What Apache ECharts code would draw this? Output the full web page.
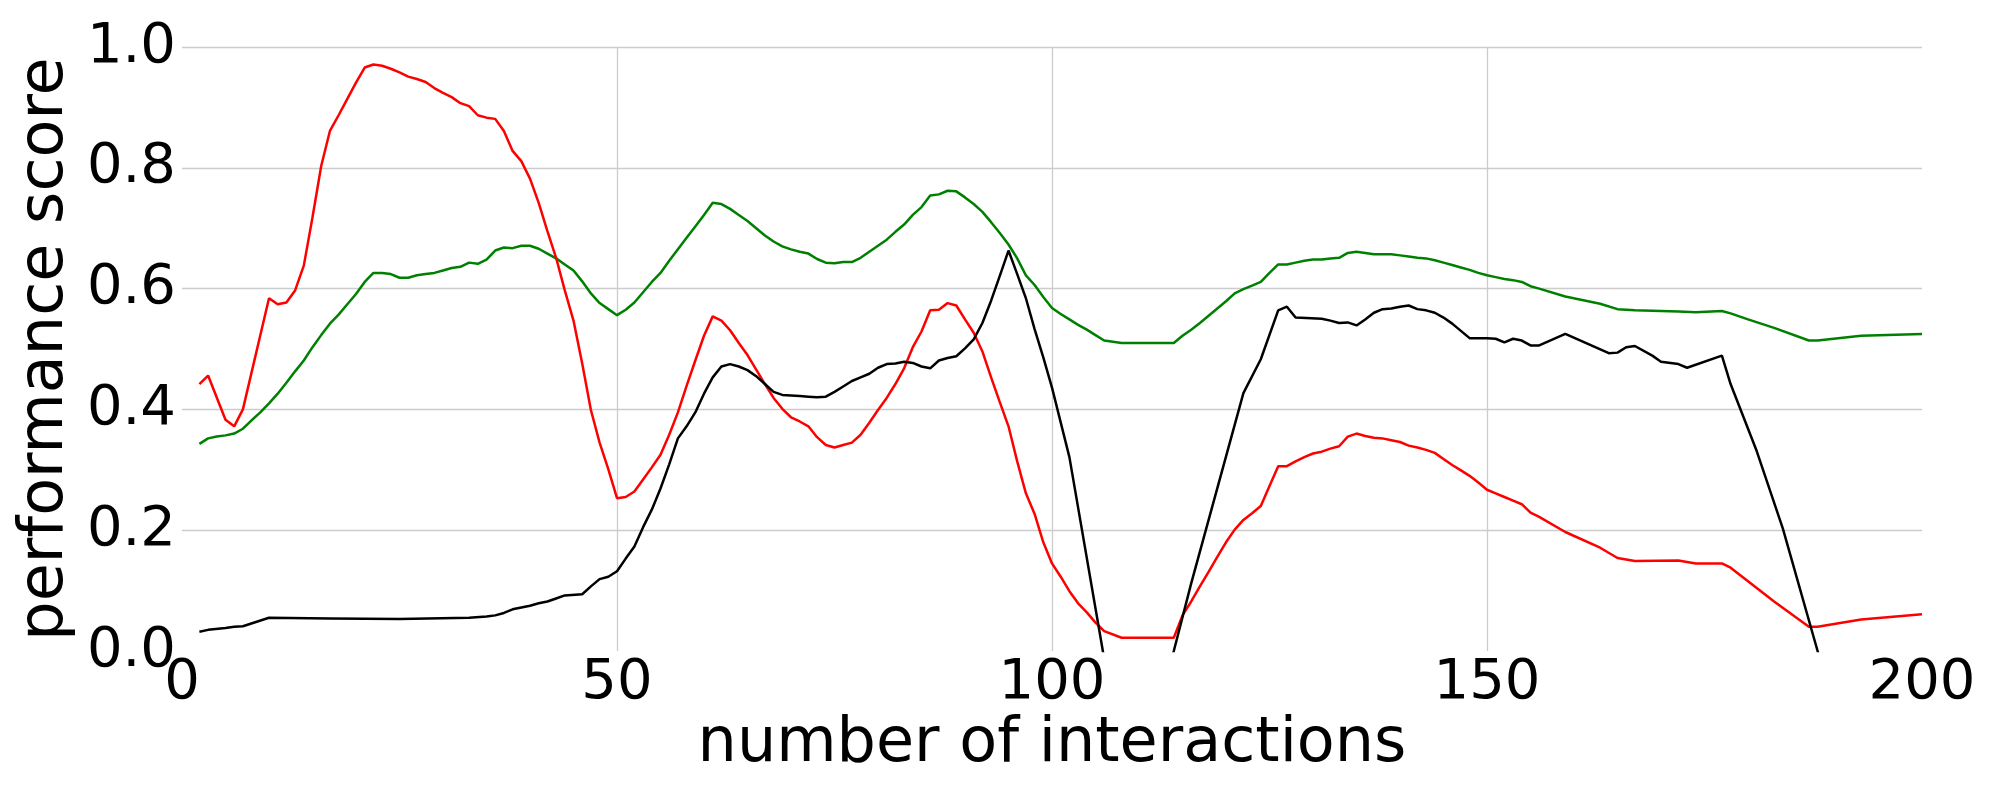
<!DOCTYPE html>
<html>
<head>
<meta charset="utf-8">
<script src="https://cdn.jsdelivr.net/npm/echarts@6/dist/echarts.min.js"></script>
<style>
html,body{margin:0;padding:0;background:#fff;}
#chart{width:2000px;height:800px;}
</style>
</head>
<body>
<div id="chart"></div>
<script>
// Red series
const redX = [2,3,5,6,7,10,11,12,13,14,15,16,17,18,19,20,21,22,23,24,25,26,27,28,29,30,31,32,33,34,35,36,37,38,39,40,41,42,43,44,45,46,47,48,49,50,51,52,53,54,55,56,57,58,59,60,61,62,63,64,65,66,67,68,69,70,71,72,73,74,75,76,77,78,79,80,81,82,83,84,85,86,87,88,89,90,91,92,93,94,95,96,97,98,99,100,101,102,103,104,105,106,108,114,115,116,117,118,119,120,121,122,123,124,125,126,127,128,129,130,131,132,133,134,135,136,137,138,139,140,141,142,143,144,145,146,147,148,149,150,151,152,153,154,155,156,159,163,165,167,172,174,177,178,183,187,188,193,200];
const redY = [0.442,0.456,0.383,0.372,0.400,0.584,0.574,0.577,0.597,0.638,0.718,0.803,0.861,0.887,0.914,0.941,0.966,0.971,0.969,0.964,0.958,0.951,0.947,0.942,0.932,0.924,0.917,0.907,0.902,0.887,0.883,0.881,0.861,0.828,0.811,0.782,0.742,0.695,0.651,0.597,0.547,0.476,0.399,0.345,0.301,0.253,0.255,0.264,0.284,0.304,0.325,0.358,0.395,0.439,0.481,0.522,0.554,0.547,0.531,0.510,0.490,0.466,0.442,0.419,0.401,0.387,0.380,0.372,0.354,0.341,0.337,0.341,0.345,0.358,0.378,0.399,0.419,0.442,0.468,0.503,0.529,0.564,0.565,0.576,0.572,0.549,0.527,0.496,0.453,0.412,0.372,0.314,0.261,0.227,0.180,0.145,0.123,0.099,0.079,0.064,0.047,0.033,0.022,0.022,0.059,0.082,0.107,0.131,0.156,0.180,0.201,0.217,0.228,0.240,0.273,0.306,0.306,0.314,0.321,0.327,0.330,0.335,0.339,0.355,0.360,0.356,0.353,0.352,0.349,0.346,0.340,0.337,0.333,0.328,0.318,0.308,0.299,0.290,0.279,0.267,0.261,0.255,0.249,0.243,0.229,0.222,0.197,0.171,0.154,0.149,0.150,0.145,0.145,0.138,0.082,0.040,0.040,0.052,0.061];

// Green series
const greenX = [2,3,4,5,6,7,8,9,10,11,12,13,14,15,16,17,18,19,20,21,22,23,24,25,26,27,28,29,30,31,32,33,34,35,36,37,38,39,40,41,42,43,44,45,46,47,48,49,50,51,52,53,54,55,56,57,58,59,60,61,62,63,64,65,66,67,68,69,70,71,72,73,74,75,76,77,78,79,80,81,82,83,84,85,86,87,88,89,90,91,92,93,94,95,96,97,98,99,100,101,102,103,104,105,106,108,114,115,116,117,118,119,120,121,122,123,124,125,126,127,128,129,130,131,132,133,134,135,136,137,138,139,140,141,142,143,144,145,146,147,148,149,150,151,152,153,154,155,156,159,163,165,167,172,174,177,178,180,183,187,188,193,200];
const greenY = [0.343,0.352,0.355,0.357,0.360,0.368,0.382,0.395,0.410,0.426,0.444,0.463,0.481,0.503,0.523,0.542,0.557,0.574,0.591,0.611,0.626,0.626,0.624,0.618,0.618,0.622,0.624,0.626,0.630,0.634,0.636,0.643,0.641,0.648,0.663,0.668,0.667,0.671,0.671,0.666,0.658,0.650,0.640,0.630,0.612,0.592,0.576,0.566,0.556,0.565,0.577,0.594,0.611,0.626,0.646,0.665,0.684,0.703,0.722,0.742,0.740,0.732,0.722,0.712,0.700,0.688,0.678,0.670,0.665,0.661,0.658,0.649,0.643,0.642,0.644,0.644,0.651,0.661,0.671,0.681,0.694,0.706,0.722,0.735,0.754,0.756,0.762,0.761,0.751,0.740,0.727,0.710,0.692,0.673,0.650,0.622,0.606,0.586,0.568,0.558,0.549,0.540,0.532,0.523,0.514,0.510,0.510,0.522,0.532,0.543,0.555,0.567,0.579,0.592,0.599,0.605,0.611,0.626,0.640,0.640,0.643,0.646,0.648,0.648,0.650,0.651,0.659,0.661,0.659,0.657,0.657,0.657,0.655,0.653,0.651,0.650,0.647,0.643,0.639,0.635,0.631,0.626,0.622,0.619,0.616,0.614,0.611,0.604,0.600,0.587,0.575,0.566,0.564,0.562,0.561,0.563,0.559,0.549,0.535,0.514,0.514,0.522,0.525];

// Black series (values below 0 run off the bottom of the plot)
const blackX = [2,3,5,6,7,10,17,25,33,35,36,37,38,39,40,41,42,43,44,46,47,48,49,50,51,52,53,54,55,56,57,58,59,60,61,62,63,64,65,66,67,68,69,70,71,72,73,74,75,76,77,78,79,80,81,82,83,84,85,86,87,88,89,90,91,92,93,94,95,96,97,98,99,100,102,106,108,112,114,116,122,124,126,127,128,131,132,133,134,135,136,137,138,139,140,141,142,143,144,145,146,147,148,150,151,152,153,154,155,156,159,164,165,166,167,169,170,172,173,177,178,181,184,188,190];
const blackY = [0.032,0.035,0.038,0.040,0.041,0.055,0.054,0.053,0.055,0.057,0.059,0.063,0.069,0.072,0.075,0.079,0.082,0.087,0.092,0.094,0.107,0.119,0.123,0.132,0.153,0.173,0.205,0.234,0.269,0.309,0.352,0.372,0.395,0.426,0.453,0.471,0.475,0.471,0.465,0.455,0.442,0.429,0.424,0.423,0.422,0.421,0.420,0.421,0.429,0.438,0.447,0.453,0.459,0.469,0.475,0.476,0.479,0.477,0.471,0.468,0.481,0.485,0.488,0.501,0.516,0.543,0.580,0.621,0.663,0.624,0.584,0.533,0.486,0.436,0.321,-0.013,-0.15,-0.11,0.0,0.112,0.427,0.483,0.564,0.570,0.552,0.550,0.547,0.543,0.544,0.539,0.549,0.560,0.566,0.567,0.570,0.572,0.566,0.564,0.560,0.552,0.542,0.530,0.518,0.518,0.517,0.511,0.517,0.514,0.506,0.506,0.525,0.493,0.494,0.503,0.505,0.489,0.479,0.475,0.469,0.489,0.442,0.331,0.203,0.0,-0.11];

const xTicks = [0, 50, 100, 150, 200];
const yTicks = [0.0, 0.2, 0.4, 0.6, 0.8, 1.0];

function pairs(xs, ys){ return xs.map((x,i)=>[x, ys[i]]); }

const chart = echarts.init(document.getElementById('chart'), null, {renderer:'canvas'});
const font = 'DejaVu Sans';
const mkSeries = (name, xs, ys, color) => ({
  name, type:'line', data: pairs(xs, ys), showSymbol:false, symbol:'none',
  lineStyle:{color, width:2.5}, itemStyle:{color}, clip:true, animation:false
});
chart.setOption({
  animation:false,
  backgroundColor:'#ffffff',
  grid:{left:182, right:78, top:47, bottom:149, containLabel:false},
  xAxis:{
    type:'value', min:xTicks[0], max:xTicks[xTicks.length-1], interval:50,
    name:'number of interactions', nameLocation:'middle', nameGap:63, nameMoveOverlap:false,
    nameTextStyle:{fontFamily:font, fontSize:62, color:'#000'},
    axisLine:{show:false}, axisTick:{show:false},
    axisLabel:{fontFamily:font, fontSize:56, color:'#000', margin:4},
    splitLine:{show:true, showMinLine:false, showMaxLine:false, lineStyle:{color:'#cccccc', width:1.3}}
  },
  yAxis:{
    type:'value', min:yTicks[0], max:yTicks[yTicks.length-1], interval:0.2,
    name:'performance score', nameLocation:'middle', nameGap:105, nameMoveOverlap:false,
    nameTextStyle:{fontFamily:font, fontSize:62, color:'#000'},
    axisLine:{show:false}, axisTick:{show:false},
    axisLabel:{fontFamily:font, fontSize:56, color:'#000', margin:6, padding:[0,0,6,0], formatter:v=>v.toFixed(1)},
    splitLine:{show:true, showMinLine:false, lineStyle:{color:'#cccccc', width:1.3}}
  },
  series:[
    mkSeries('green', greenX, greenY, '#008000'),
    mkSeries('red', redX, redY, '#ff0000'),
    mkSeries('black', blackX, blackY, '#000000')
  ]
});
</script>
</body>
</html>
